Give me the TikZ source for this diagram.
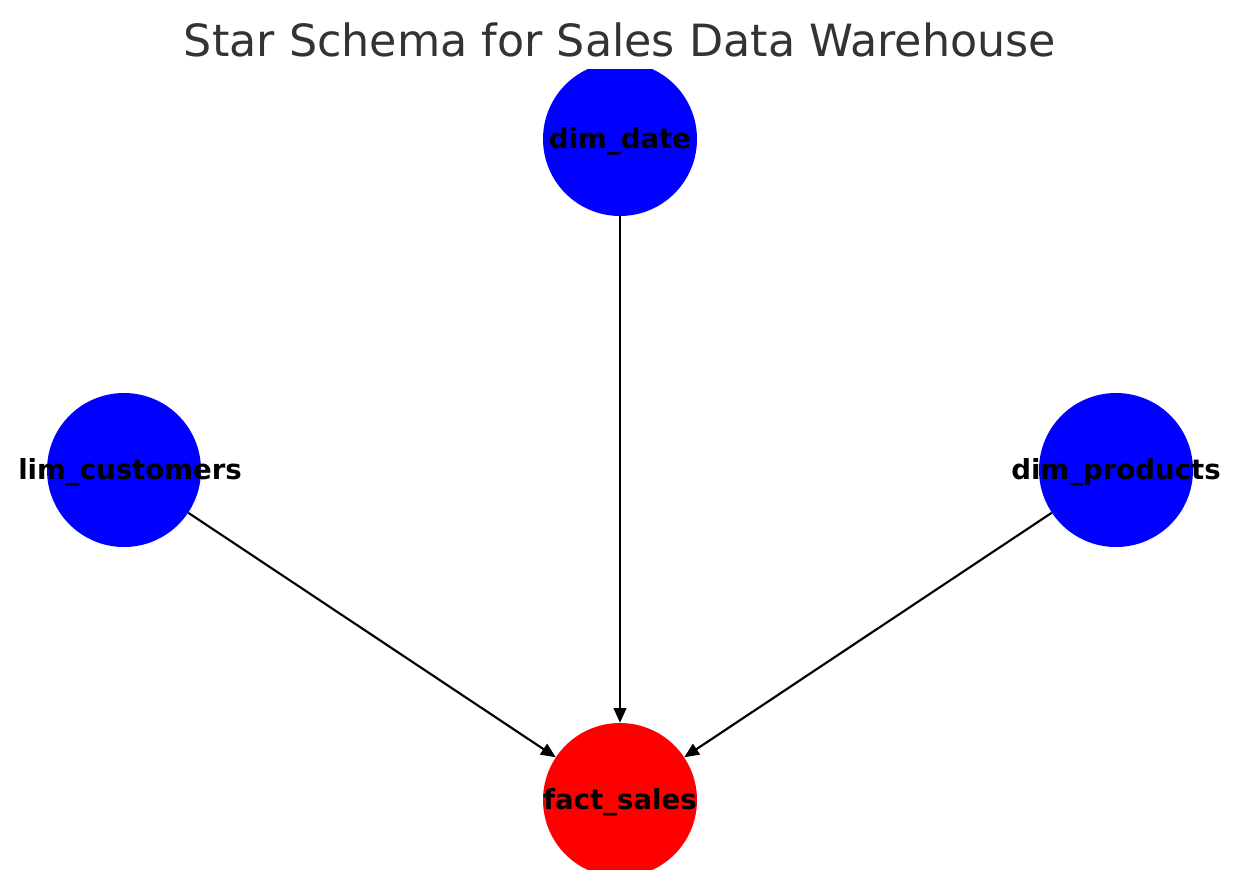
\documentclass[tikz,border=0pt]{standalone}
\usepackage{fontspec}
\setmainfont{DejaVu Sans}
\usetikzlibrary{arrows.meta}
\definecolor{titlegray}{HTML}{333333}
\begin{document}
\begin{tikzpicture}[x=0.75pt,y=-0.75pt,
  dimnode/.style={circle,fill=blue,draw=none,minimum size=115.5pt,inner sep=0pt},
  factnode/.style={circle,fill=red,draw=none,minimum size=115.5pt,inner sep=0pt},
  lbl/.style={font=\fontsize{20.7}{24}\selectfont\bfseries,text=black,inner sep=0pt},
  edge/.style={line width=1.6pt,-{Triangle[length=11pt,width=9.5pt]}}]
\useasboundingbox (0,0) rectangle (1239,890);
\node[font=\fontsize{33.3}{40}\selectfont,text=titlegray,inner sep=0pt] (title) at (620,40) {Star Schema for Sales Data Warehouse};
\begin{scope}
\clip (18,69) rectangle (1221,869);
\node[dimnode] (date) at (620,139) {};
\node[dimnode] (cust) at (124,470) {};
\node[dimnode] (prod) at (1116,470) {};
\node[factnode] (fact) at (620,800) {};
\end{scope}
\draw[edge] (date) -- (fact);
\draw[edge] (cust) -- (fact);
\draw[edge] (prod) -- (fact);
\node[lbl] (datel) at (620,141) {dim\_date};
\node[lbl,anchor=west] (custl) at (18,472) {lim\_customers};
\node[lbl] (prodl) at (1116,472) {dim\_products};
\node[lbl] (factl) at (620,802) {fact\_sales};
\end{tikzpicture}
\end{document}
